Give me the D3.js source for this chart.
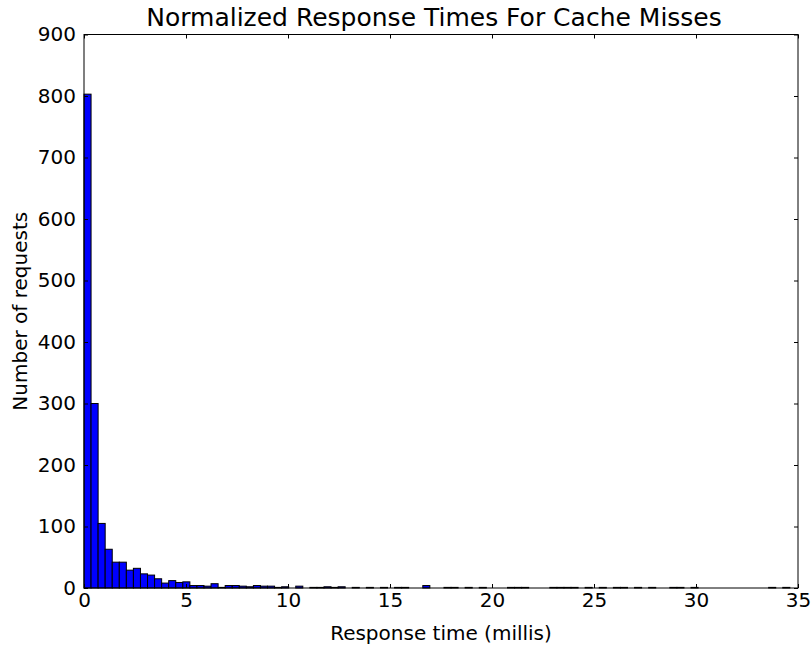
<!DOCTYPE html>
<html lang="en">
<head>
  <meta charset="UTF-8">
  <title>Normalized Response Times For Cache Misses</title>
  <script src="https://cdn.jsdelivr.net/npm/d3@7"></script>
  <style>
    body { margin: 0; background: #fff; }
    text { font-family: "DejaVu Sans", sans-serif; }
  </style>
</head>
<body>
  <svg id="chart"></svg>
  <script>
    // histogram of response times, 100 bins
    const binStart = 0;
    const binWidth = 0.346;
    const counts = [
      803, 300, 105, 63, 42, 42, 29, 32, 23, 21,
      15, 8, 12, 9, 10, 4, 4, 3, 7, 1,
      4, 4, 3, 2, 4, 3, 3, 1, 2, 0,
      3, 0, 1, 1, 2, 1, 2, 0, 1, 0,
      1, 0, 1, 0, 1, 1, 0, 0, 4, 0,
      0, 1, 1, 0, 1, 0, 1, 0, 0, 0,
      1, 1, 1, 0, 0, 0, 1, 1, 1, 1,
      0, 1, 0, 1, 0, 1, 1, 0, 1, 0,
      1, 0, 0, 1, 1, 0, 1, 0, 0, 0,
      0, 0, 0, 0, 0, 0, 0, 1, 0, 1
    ];
    const xTicks = [0, 5, 10, 15, 20, 25, 30, 35];
    const yTicks = [0, 100, 200, 300, 400, 500, 600, 700, 800, 900];

    const width = 812, height = 646;
    const margin = { top: 34.5, right: 14, bottom: 58, left: 84 };

    const svg = d3.select("#chart")
                  .attr("width", width)
                  .attr("height", height);

    const x = d3.scaleLinear().domain([0, 35]).range([margin.left, width - margin.right]);
    const y = d3.scaleLinear().domain([0, 900]).range([height - margin.bottom, margin.top]);

    const bins = counts.map((c, i) => ({ x0: binStart + i * binWidth, x1: binStart + (i + 1) * binWidth, count: c }));

    svg.append("g")
       .selectAll("rect")
       .data(bins)
       .enter()
       .append("rect")
       .attr("x", d => x(d.x0))
       .attr("width", d => x(d.x1) - x(d.x0))
       .attr("y", d => y(d.count))
       .attr("height", d => y(0) - y(d.count))
       .attr("fill", "#0000ff")
       .attr("stroke", "#000")
       .attr("stroke-width", 1);

    // inward ticks on all four sides
    const tickLen = 4;
    const fmt = d3.format("d");

    const axBottom = svg.append("g")
       .attr("transform", `translate(0,${y(0)})`)
       .call(d3.axisBottom(x).tickValues(xTicks).tickFormat(fmt).tickSize(-tickLen).tickPadding(5));
    const axTop = svg.append("g")
       .attr("transform", `translate(0,${y(900)})`)
       .call(d3.axisTop(x).tickValues(xTicks).tickFormat("").tickSize(-tickLen));
    const axLeft = svg.append("g")
       .attr("transform", `translate(${x(0)},0)`)
       .call(d3.axisLeft(y).tickValues(yTicks).tickFormat(fmt).tickSize(-tickLen).tickPadding(8));
    const axRight = svg.append("g")
       .attr("transform", `translate(${x(35)},0)`)
       .call(d3.axisRight(y).tickValues(yTicks).tickFormat("").tickSize(-tickLen));

    [axBottom, axTop, axLeft, axRight].forEach(g => {
      g.select(".domain").remove();
      g.selectAll(".tick line").attr("stroke", "#000");
      g.selectAll(".tick text")
       .attr("fill", "#000")
       .style("font-size", "20px")
       .style("font-family", "DejaVu Sans, sans-serif");
    });

    svg.append("rect")
       .attr("x", x(0))
       .attr("y", y(900))
       .attr("width", x(35) - x(0))
       .attr("height", y(0) - y(900))
       .attr("fill", "none")
       .attr("stroke", "#000")
       .attr("stroke-width", 1);

    svg.append("text")
       .attr("x", 434)
       .attr("y", 26)
       .attr("text-anchor", "middle")
       .style("font-size", "25px")
       .text("Normalized Response Times For Cache Misses");

    svg.append("text")
       .attr("x", (x(0) + x(35)) / 2)
       .attr("y", 640)
       .attr("text-anchor", "middle")
       .style("font-size", "20px")
       .text("Response time (millis)");

    svg.append("text")
       .attr("transform", `translate(27,${(y(0) + y(900)) / 2}) rotate(-90)`)
       .attr("text-anchor", "middle")
       .style("font-size", "20px")
       .text("Number of requests");
  </script>
</body>
</html>
